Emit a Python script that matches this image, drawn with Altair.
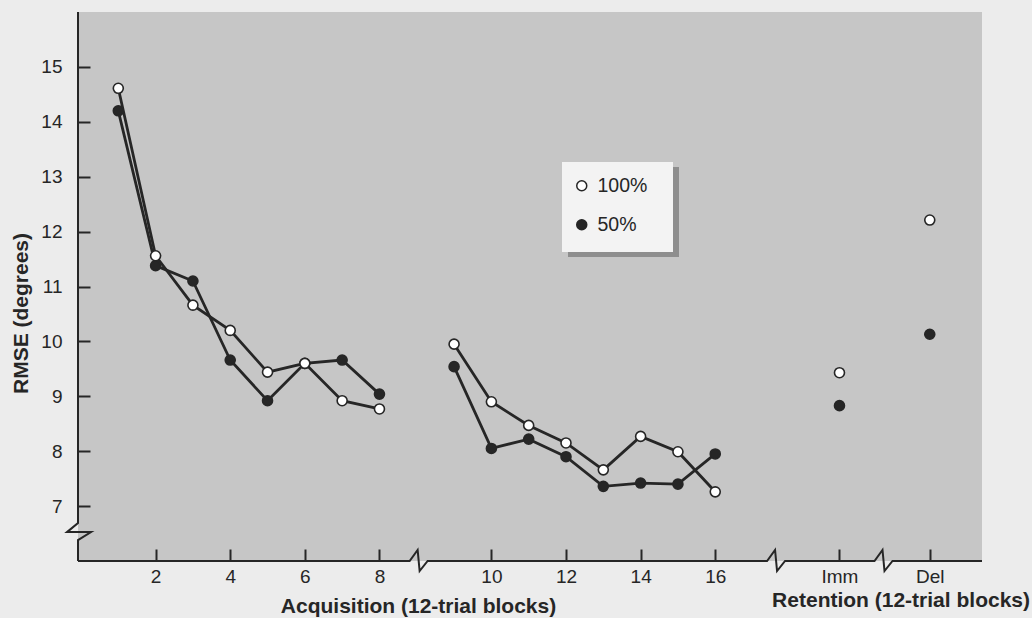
import altair as alt
import pandas as pd

# --- values -------------------------------------------------------------
blocks = list(range(1, 17))
rmse_100 = [14.61, 11.56, 10.66, 10.20, 9.44, 9.60, 8.92, 8.77,
            9.95, 8.90, 8.47, 8.15, 7.66, 8.27, 7.99, 7.26]
rmse_50 = [14.20, 11.38, 11.10, 9.66, 8.92, 9.60, 9.66, 9.04,
           9.54, 8.05, 8.22, 7.90, 7.36, 7.42, 7.40, 7.95]
retention_tests = ["Imm", "Del"]
retention_100 = [9.43, 12.21]
retention_50 = [8.83, 10.13]
series_names = ["100%", "50%"]
y_ticks = [7, 8, 9, 10, 11, 12, 13, 14, 15]
acq_tick_blocks = [2, 4, 6, 8, 10, 12, 14, 16]

# --- layout of the broken x axis -----------------------------------------
GAP_AFTER = 8                      # blocks after this one move one slot right
RET_POS = {"Imm": 20.33, "Del": 22.75}
X_DOMAIN = [-0.08, 24.15]
Y_DOMAIN = [6, 16]
W, H = 904, 549
PX_X = W / (X_DOMAIN[1] - X_DOMAIN[0])
PX_Y = H / (Y_DOMAIN[1] - Y_DOMAIN[0])
X_BREAKS = [9.05, 18.63, 21.51]
Y_BREAK = 6.69

INK = "#262626"
FONT = "Liberation Sans"


def xpos(b):
    return b if b <= GAP_AFTER else b + 1


rows = []
for name, vals in zip(series_names, [rmse_100, rmse_50]):
    for b, v in zip(blocks, vals):
        rows.append(dict(series=name, pos=xpos(b), rmse=v,
                         seg="A1" if b <= GAP_AFTER else "A2"))
for name, vals in zip(series_names, [retention_100, retention_50]):
    for t, v in zip(retention_tests, vals):
        rows.append(dict(series=name, pos=RET_POS[t], rmse=v, seg="R"))
df = pd.DataFrame(rows)

# axis lines with zig-zag break symbols, in data units
axis_pts = []
k = 0
def add(path, x, y):
    global k
    axis_pts.append(dict(path=path, i=k, x=x, y=y))
    k += 1

add("x", X_DOMAIN[0], Y_DOMAIN[0])
for c in X_BREAKS:
    add("x", c - 9 / PX_X, Y_DOMAIN[0])
    add("x", c - 1 / PX_X, Y_DOMAIN[0] + 11 / PX_Y)
    add("x", c + 1 / PX_X, Y_DOMAIN[0] - 10 / PX_Y)
    add("x", c + 9 / PX_X, Y_DOMAIN[0])
add("x", X_DOMAIN[1], Y_DOMAIN[0])

x0 = X_DOMAIN[0]
add("y", x0, Y_DOMAIN[1])
add("y", x0, Y_BREAK)
add("y", x0 - 11 / PX_X, Y_BREAK - 9 / PX_Y)
add("y", x0 + 13 / PX_X, Y_BREAK - 9 / PX_Y)
add("y", x0, Y_BREAK - 17 / PX_Y)
add("y", x0, Y_DOMAIN[0])
axis_df = pd.DataFrame(axis_pts)

x_tick_vals = [xpos(b) for b in acq_tick_blocks] + [RET_POS[t] for t in retention_tests]
label_expr = (
    f"datum.value <= {GAP_AFTER} ? '' + datum.value : "
    f"datum.value < 19 ? '' + (datum.value - 1) : "
    f"datum.value < 21.5 ? 'Imm' : 'Del'"
)

x_scale = alt.Scale(domain=X_DOMAIN, nice=False, zero=False)
y_scale = alt.Scale(domain=Y_DOMAIN, nice=False, zero=False)

x_enc = alt.X(
    "pos:Q", scale=x_scale,
    axis=alt.Axis(values=x_tick_vals, labelExpr=label_expr, grid=False, domain=False,
                  offset=-12, tickSize=12, tickWidth=2, tickColor=INK,
                  labelPadding=6, labelFontSize=19, labelFont=FONT, labelColor=INK,
                  title="Acquisition (12-trial blocks)", titleFont=FONT, titleFontSize=21,
                  titleFontWeight="bold", titleColor=INK, titleX=340, titleY=63,
                  titleAlign="center", titleBaseline="alphabetic"),
)
y_enc = alt.Y(
    "rmse:Q", scale=y_scale,
    axis=alt.Axis(values=y_ticks, grid=False, domain=False,
                  offset=-12, tickSize=12, tickWidth=2, tickColor=INK,
                  labelPadding=16, labelFontSize=19, labelFont=FONT, labelColor=INK,
                  title="RMSE (degrees)", titleFont=FONT, titleFontSize=21,
                  titleFontWeight="bold", titleColor=INK, titleX=-63, titleY=301,
                  titleAngle=-90, titleAlign="center", titleBaseline="alphabetic"),
)

fill_scale = alt.Scale(domain=series_names, range=["white", INK])

box = alt.Data(values=[{"k": 1}])
shadow = alt.Chart(box).mark_rect(color="#8e8e8e").encode(
    x=alt.value(490), x2=alt.value(601), y=alt.value(155), y2=alt.value(245))
panel = alt.Chart(box).mark_rect(color="#f3f3f3").encode(
    x=alt.value(484), x2=alt.value(595), y=alt.value(150), y2=alt.value(240))

lines = alt.Chart(df).transform_filter("datum.seg != 'R'").mark_line(
    color=INK, strokeWidth=2.8).encode(
    x=x_enc, y=y_enc, detail=alt.Detail("key:N"), order="pos:Q"
).transform_calculate(key="datum.series + datum.seg")

points = alt.Chart(df).mark_point(
    shape="circle", filled=True, size=100, stroke=INK, strokeWidth=1.6, opacity=1
).encode(
    x="pos:Q", y="rmse:Q",
    fill=alt.Fill("series:N", scale=fill_scale, sort=series_names,
                  legend=alt.Legend(orient="none", legendX=494, legendY=164, title=None,
                                    symbolType="circle", symbolSize=100,
                                    symbolStrokeColor=INK, symbolStrokeWidth=1.5,
                                    labelFontSize=19.5, labelFont=FONT, labelColor=INK,
                                    labelOffset=6, rowPadding=18, padding=0)),
    order=alt.Order("series:N", sort="descending"),
)

axes = alt.Chart(axis_df).mark_line(color=INK, strokeWidth=2, clip=False).encode(
    x=alt.X("x:Q", scale=x_scale), y=alt.Y("y:Q", scale=y_scale),
    detail="path:N", order="i:Q")

retention_title = alt.Chart(box).mark_text(
    text="Retention (12-trial blocks)", font=FONT, fontSize=21, fontWeight="bold",
    color=INK, align="right", baseline="alphabetic").encode(
    x=alt.value(952), y=alt.value(595))

chart = alt.layer(shadow, panel, lines, points, axes, retention_title).properties(
    width=W, height=H, autosize="none",
    padding={"left": 78, "top": 12, "right": 50, "bottom": 57},
    background="#ececec",
).configure_view(fill="#c6c6c6", strokeWidth=0)

chart.save("out.html", embed_options={"renderer": "svg", "actions": False})
